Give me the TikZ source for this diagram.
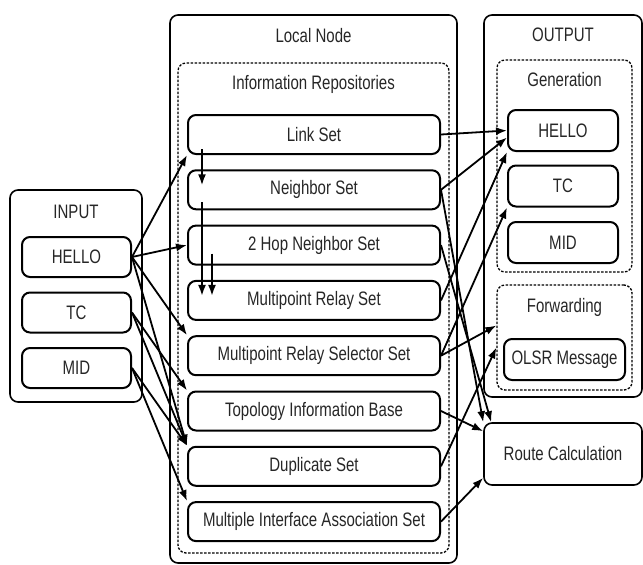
\documentclass[tikz,border=0pt]{standalone}
\usepackage{fontspec}
\setmainfont{Liberation Sans}[FakeStretch=0.77]
\usetikzlibrary{arrows.meta}

\begin{document}
\begin{tikzpicture}[x=1pt, y=-1pt, font=\fontsize{19.5}{21}\selectfont, text=black!85,
  frame/.style={draw, line width=1.6pt, rounded corners=8pt, inner sep=0pt},
  group/.style={draw, dash pattern=on 2.5pt off 1.5pt, line width=1.3pt, rounded corners=8pt, inner sep=0pt},
  item/.style={draw, line width=2pt, rounded corners=8pt, inner sep=0pt, minimum height=39pt},
  arr/.style={-{Latex[length=11pt,width=8pt]}, line width=1.8pt}]
\useasboundingbox (0,0) rectangle (643,565);

% input side
\node[frame, minimum width=132pt, minimum height=212pt] (input) at (76,296) {};
\node (inputlbl) at (76,212) {INPUT};
\node[item, minimum width=109pt, minimum height=40pt] (inhello) at (76.5,257) {HELLO};
\node[item, minimum width=109pt, minimum height=40pt] (intc) at (76.5,312.5) {TC};
\node[item, minimum width=109pt, minimum height=40pt] (inmid) at (76.5,368) {MID};

% local node
\node[frame, minimum width=287pt, minimum height=548pt] (local) at (313.5,289) {};
\node (locallbl) at (313.5,36) {Local Node};
\node[group, minimum width=271pt, minimum height=490pt] (repo) at (313.5,308) {};
\node (repolbl) at (313.5,84) {Information Repositories};
\foreach \name/\txt [count=\i from 0] in {link/Link Set, neighbor/Neighbor Set,
    twohop/2 Hop Neighbor Set, mpr/Multipoint Relay Set, mprs/Multipoint Relay Selector Set,
    topo/Topology Information Base, dup/Duplicate Set, mias/Multiple Interface Association Set}
  \node[item, minimum width=252pt] (\name) at (314,134.5+55.3*\i) {\txt};

% output side
\node[frame, minimum width=158pt, minimum height=382pt] (output) at (563,206) {};
\node (outputlbl) at (563,35) {OUTPUT};
\node[group, minimum width=135pt, minimum height=212pt] (gen) at (564.5,166) {};
\node (genlbl) at (564.5,80) {Generation};
\node[item, minimum width=110pt, minimum height=41pt] (outhello) at (563,130.5) {HELLO};
\node[item, minimum width=110pt, minimum height=41pt] (outtc) at (563,186) {TC};
\node[item, minimum width=110pt, minimum height=41pt] (outmid) at (563,242.5) {MID};
\node[group, minimum width=135pt, minimum height=105pt] (fwd) at (564.5,337.5) {};
\node (fwdlbl) at (564.5,307) {Forwarding};
\node[item, minimum width=121pt, minimum height=41pt] (olsr) at (564.5,359.5) {OLSR Message};
\node[frame, minimum width=158pt, minimum height=62pt] (route) at (563,454) {Route Calculation};

% inside the repositories
\draw[arr] ([xshift=15pt,yshift=6pt]link.south west) -- ([xshift=15pt,yshift=-16pt]neighbor.north west);
\draw[arr] ([xshift=15pt,yshift=8pt]neighbor.south west) -- ([xshift=15pt,yshift=-16pt]mpr.north west);
\draw[arr] ([xshift=25pt,yshift=12pt]twohop.south west) -- ([xshift=25pt,yshift=-16pt]mpr.north west);

% messages in
\draw[arr] (inhello.east) -- (link.south west);
\draw[arr] (inhello.east) -- (twohop.west);
\draw[arr] (inhello.east) -- (mprs.north west);
\draw[arr] (inhello.east) -- (dup.north west);
\draw[arr] (intc.east) -- (topo.north west);
\draw[arr] (intc.east) -- (dup.north west);
\draw[arr] (inmid.east) -- (dup.north west);
\draw[arr] (inmid.east) -- (mias.north west);

% messages out
\draw[arr] (link.east) -- (outhello.west);
\draw[arr] (neighbor.east) -- ([yshift=-7pt]outhello.west);
\draw[arr] (mpr.east) -- (outhello.south west);
\draw[arr] (mprs.east) -- (outtc.south west);
\draw[arr] (mprs.east) -- ([yshift=12pt]fwd.west);
\draw[arr] (dup.east) -- ([yshift=-10pt]fwd.west);
\draw[arr] (neighbor.east) -- (route.north west);
\draw[arr] (twohop.east) -- ([xshift=8pt]route.north west);
\draw[arr] (topo.east) -- ([yshift=-9pt]route.north west);
\draw[arr] (mias.east) -- ([yshift=8pt]route.south west);
\end{tikzpicture}
\end{document}
